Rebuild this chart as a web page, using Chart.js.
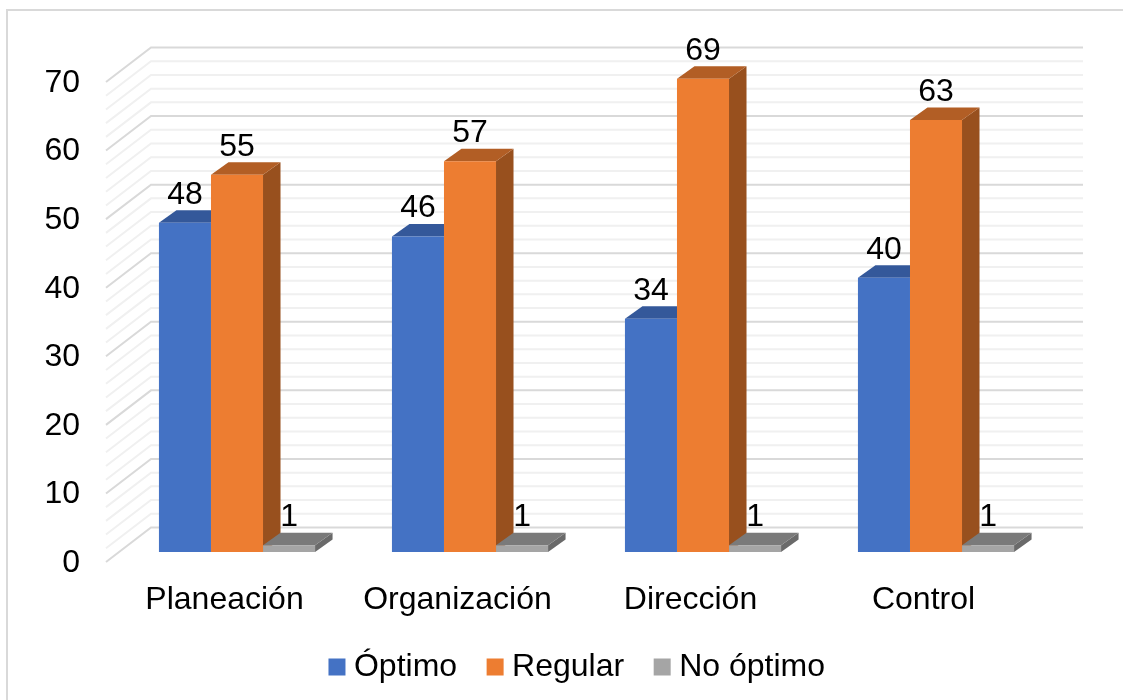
<!DOCTYPE html>
<html>
<head>
<meta charset="utf-8">
<script src="https://cdn.jsdelivr.net/npm/chart.js@4"></script>
<style>
  html, body { margin: 0; padding: 0; background: #fff; overflow: hidden; }
  #wrap { position: relative; width: 1123px; height: 700px; }
  #frame { position: absolute; left: 6px; top: 9px; right: 0; bottom: 0; border-left: 2px solid #d9d9d9; border-top: 2px solid #d9d9d9; }
  canvas { position: absolute; left: 0; top: 0; }
</style>
</head>
<body>
<div id="wrap">
  <div id="frame"></div>
  <canvas id="chart" width="1123" height="700"></canvas>
</div>
<script>
const categories = ["Planeación", "Organización", "Dirección", "Control"];
const optimo = [48, 46, 34, 40];
const regular = [55, 57, 69, 63];
const noOptimo = [1, 1, 1, 1];

const FONT = "'Liberation Sans', Arial, sans-serif";
const TEXT_SIZE = 32;

// fake 3d: the wall sits behind the axis plane, bars stand part way in
const wallDepth = { x: 45, y: -34.5 };
const gridShiftY = -1;
const barShift = { x: 14.5, y: -11 };
const barDepth = { x: 17.5, y: -12.5 };
const topColors = ["#34589a", "#b25e25", "#7a7a7a"];
const sideColors = ["#2c4b83", "#98501e", "#6a6a6a"];

function face(ctx, color, pts) {
  ctx.fillStyle = color;
  ctx.beginPath();
  ctx.moveTo(pts[0][0], pts[0][1]);
  pts.slice(1).forEach((p) => ctx.lineTo(p[0], p[1]));
  ctx.closePath();
  ctx.fill();
}

const fake3d = {
  id: "fake3d",
  afterLayout(chart) {
    // legend sits a bit right of the plot centre and over the bottom gap
    chart.legend.left += 8.5;
    chart.legend.right += 8.5;
    chart.legend.top -= 4;
    chart.legend.bottom -= 4;
  },
  beforeDatasetsDraw(chart) {
    const ctx = chart.ctx;
    const area = chart.chartArea;
    const y = chart.scales.y;

    // wall and side grid, major every 10, minor every 2
    for (let v = y.max; v >= y.min; v -= 2) {
      const py = y.getPixelForValue(v) + gridShiftY;
      ctx.strokeStyle = v % 10 === 0 ? "#d9d9d9" : "#f0f0f0";
      ctx.lineWidth = 2;
      ctx.beginPath();
      ctx.moveTo(area.left, py);
      ctx.lineTo(area.left + wallDepth.x, py + wallDepth.y);
      ctx.lineTo(area.right + wallDepth.x, py + wallDepth.y);
      ctx.stroke();
    }

    ctx.save();
    ctx.translate(barShift.x, barShift.y);
    chart.data.datasets.forEach((ds, i) => {
      chart.getDatasetMeta(i).data.forEach((bar) => {
        const l = bar.x - bar.width / 2;
        const r = bar.x + bar.width / 2;
        const dx = barDepth.x;
        const dy = barDepth.y;
        face(ctx, sideColors[i], [[r, bar.y], [r + dx, bar.y + dy], [r + dx, bar.base + dy], [r, bar.base]]);
        face(ctx, topColors[i], [[l, bar.y], [l + dx, bar.y + dy], [r + dx, bar.y + dy], [r, bar.y]]);
      });
    });
  },
  afterDatasetsDraw(chart) {
    const ctx = chart.ctx;
    ctx.fillStyle = "#000";
    ctx.font = TEXT_SIZE + "px " + FONT;
    ctx.textAlign = "center";
    ctx.textBaseline = "middle";
    chart.data.datasets.forEach((ds, i) => {
      chart.getDatasetMeta(i).data.forEach((bar, j) => {
        ctx.fillText(ds.data[j], bar.x, bar.y - 28);
      });
    });
    ctx.restore();
  },
};

new Chart(document.getElementById("chart"), {
  type: "bar",
  plugins: [fake3d],
  data: {
    labels: categories,
    datasets: [
      { label: "Óptimo", data: optimo, backgroundColor: "#4472c4", borderWidth: 0, clip: false },
      { label: "Regular", data: regular, backgroundColor: "#ed7d31", borderWidth: 0, clip: false },
      { label: "No óptimo", data: noOptimo, backgroundColor: "#a5a5a5", borderWidth: 0, clip: false },
    ],
  },
  options: {
    responsive: false,
    animation: false,
    categoryPercentage: 0.67,
    barPercentage: 1,
    layout: { padding: { top: 83, right: 85, left: 0, bottom: 3 } },
    plugins: {
      tooltip: { enabled: false },
      legend: {
        position: "bottom",
        fullSize: false,
        labels: {
          usePointStyle: true,
          pointStyle: "rect",
          boxWidth: 2,
          boxHeight: 17,
          padding: 37,
          color: "#000",
          font: { family: FONT, size: TEXT_SIZE },
        },
      },
    },
    scales: {
      x: {
        afterFit(scale) { scale.height = 55; },
        grid: { display: false },
        border: { display: false },
        ticks: { color: "#000", padding: 10, labelOffset: 2, maxRotation: 0, autoSkip: false, font: { family: FONT, size: TEXT_SIZE } },
      },
      y: {
        min: 0,
        max: 70,
        afterFit(scale) { scale.width = 106; },
        grid: { display: false, drawTicks: false },
        border: { display: false },
        ticks: { stepSize: 10, color: "#000", padding: 26, font: { family: FONT, size: TEXT_SIZE } },
      },
    },
  },
});
</script>
</body>
</html>
